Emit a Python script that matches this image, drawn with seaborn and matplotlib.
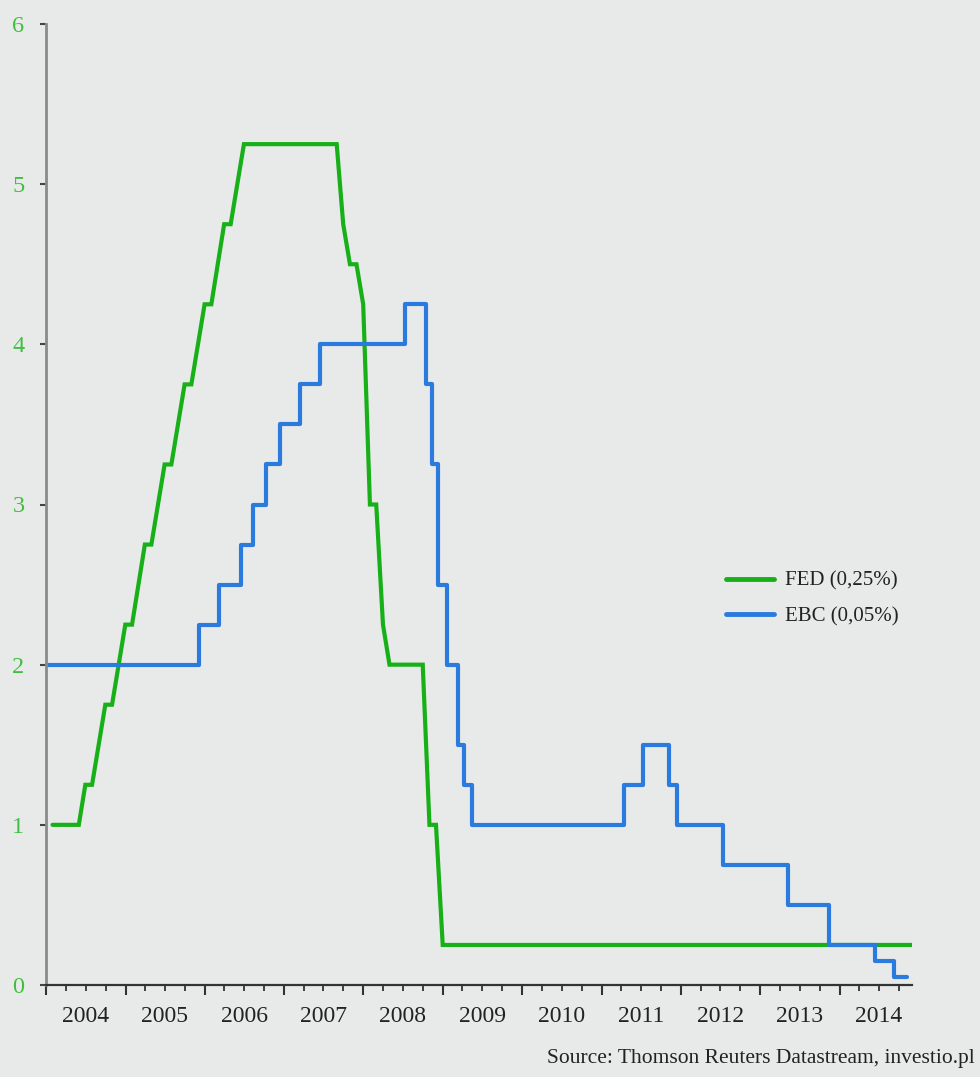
import matplotlib
matplotlib.use("Agg")
import matplotlib.pyplot as plt
import matplotlib.dates as mdates
from matplotlib.ticker import FuncFormatter
import seaborn as sns
import pandas as pd

# ---------------- data ----------------
# FED: month-end values at the corners of the drawn line
fed_dates = ["2004-01-31", "2004-05-31", "2004-06-30", "2004-07-31", "2004-09-30",
             "2004-10-31", "2004-12-31", "2005-01-31", "2005-03-31", "2005-04-30",
             "2005-06-30", "2005-07-31", "2005-09-30", "2005-10-31", "2005-12-31",
             "2006-01-31", "2006-03-31", "2006-04-30", "2006-06-30", "2007-08-31",
             "2007-09-30", "2007-10-31", "2007-11-30", "2007-12-31", "2008-01-31",
             "2008-02-29", "2008-03-31", "2008-04-30", "2008-09-30", "2008-10-31",
             "2008-11-30", "2008-12-31", "2014-11-30"]
fed_rates = [1.0, 1.0, 1.25, 1.25, 1.75,
             1.75, 2.25, 2.25, 2.75, 2.75,
             3.25, 3.25, 3.75, 3.75, 4.25,
             4.25, 4.75, 4.75, 5.25, 5.25,
             4.75, 4.5, 4.5, 4.25, 3.0,
             3.0, 2.25, 2.0, 2.0, 1.0,
             1.0, 0.25, 0.25]

# EBC: rate-change dates (step series)
ebc_dates = ["2004-01-01", "2005-12-06", "2006-03-08", "2006-06-15", "2006-08-09",
             "2006-10-11", "2006-12-13", "2007-03-14", "2007-06-13", "2008-07-09",
             "2008-10-15", "2008-11-12", "2008-12-10", "2009-01-21", "2009-03-11",
             "2009-04-08", "2009-05-13", "2011-04-13", "2011-07-13", "2011-11-09",
             "2011-12-14", "2012-07-11", "2013-05-08", "2013-11-13", "2014-06-11",
             "2014-09-10", "2014-11-07"]
ebc_rates = [2.0, 2.25, 2.5, 2.75, 3.0,
             3.25, 3.5, 3.75, 4.0, 4.25,
             3.75, 3.25, 2.5, 2.0, 1.5,
             1.25, 1.0, 1.25, 1.5, 1.25,
             1.0, 0.75, 0.5, 0.25, 0.15,
             0.05, 0.05]

labels = ["FED (0,25%)", "EBC (0,05%)"]
y_ticks = [0, 1, 2, 3, 4, 5, 6]
source_text = "Source: Thomson Reuters Datastream, investio.pl"

# ---------------- style ----------------
BG = "#e8eae9"
GREEN = "#18b018"
BLUE = "#2b7bdf"
TICK_GREEN = "#3fbf3f"

sns.set_theme(style="white")
plt.rcParams["font.family"] = ["Liberation Serif", "DejaVu Serif"]

fig = plt.figure(figsize=(9.8, 10.77), dpi=100, facecolor=BG)
ax = fig.add_axes([46 / 980, 1 - 985 / 1077, (912 - 46) / 980, (985 - 24) / 1077])
ax.set_facecolor(BG)

fed_df = pd.DataFrame({"date": pd.to_datetime(fed_dates), "rate": fed_rates})
ebc_df = pd.DataFrame({"date": pd.to_datetime(ebc_dates), "rate": ebc_rates})

sns.lineplot(data=fed_df, x="date", y="rate", ax=ax, color=GREEN, lw=3,
             label=labels[0], solid_joinstyle="miter")
sns.lineplot(data=ebc_df, x="date", y="rate", ax=ax, color=BLUE, lw=3,
             label=labels[1], drawstyle="steps-post")

ax.set_xlim(pd.Timestamp("2004-01-01"), pd.Timestamp("2014-11-30"))
ax.set_ylim(0, 6)
ax.set_xlabel("")
ax.set_ylabel("")

for s in ["top", "right"]:
    ax.spines[s].set_visible(False)
ax.spines["left"].set_color("#8a8a8a")
ax.spines["left"].set_linewidth(2)
ax.spines["bottom"].set_color("#333333")
ax.spines["bottom"].set_linewidth(1.6)

ax.set_yticks(y_ticks)
ax.set_yticklabels([str(v) for v in y_ticks])
ax.tick_params(axis="y", which="major", direction="out", length=4.5, width=1.5,
               color="#444444", pad=11, labelsize=17.5, labelcolor=TICK_GREEN, left=True)

ax.xaxis.set_major_locator(mdates.YearLocator())
ax.xaxis.set_major_formatter(FuncFormatter(lambda v, p: ""))
ax.xaxis.set_minor_locator(mdates.MonthLocator(bymonth=[4, 7, 10]))


def year_label(v, p):
    d = mdates.num2date(v)
    return str(d.year) if d.month == 7 else ""


ax.xaxis.set_minor_formatter(FuncFormatter(year_label))
ax.tick_params(axis="x", which="major", direction="out", length=7, width=1.5,
               color="#333333", bottom=True)
ax.tick_params(axis="x", which="minor", direction="out", length=4, width=1.3,
               color="#333333", bottom=True, pad=11, labelsize=17, labelcolor="#222222")

leg = ax.legend(loc="center left", bbox_to_anchor=(726 / 980, 1 - 599 / 1077),
                bbox_transform=fig.transFigure, frameon=False, fontsize=15,
                handlelength=2.3, handletextpad=0.55, labelspacing=0.78,
                borderpad=0, borderaxespad=0)
for t in leg.get_texts():
    t.set_color("#222222")
for h in leg.get_lines():
    h.set_linewidth(3.5)

fig.text(975 / 980, 1 - 1058 / 1077, source_text, ha="right", va="center",
         fontsize=15.5, color="#222222")

fig.savefig("out.png", dpi=100, facecolor=BG)
